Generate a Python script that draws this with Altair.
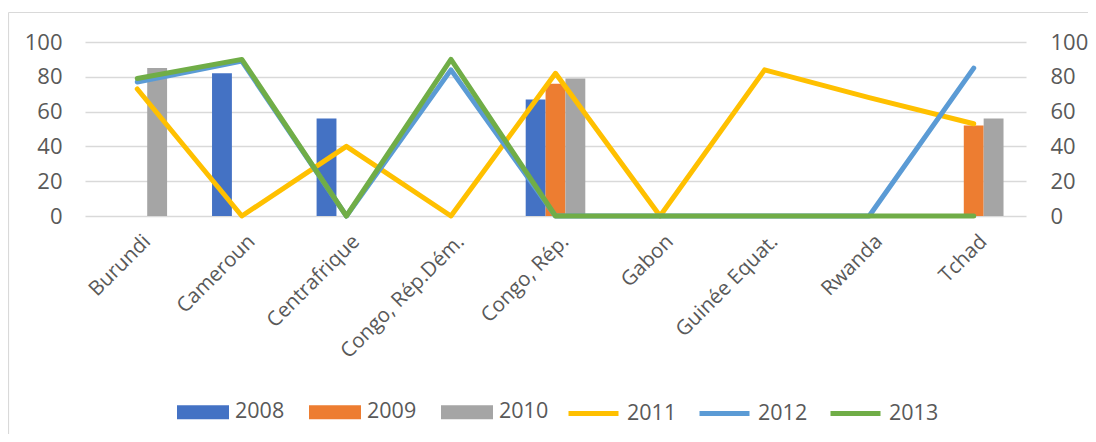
import altair as alt
import pandas as pd

categories = ["Burundi", "Cameroun", "Centrafrique", "Congo, Rép.Dém.", "Congo, Rép.",
              "Gabon", "Guinée Equat.", "Rwanda", "Tchad"]

bar_years = ["2008", "2009", "2010"]
v2008 = [0, 82, 56, 0, 67, 0, 0, 0, 0]
v2009 = [0, 0, 0, 0, 76, 0, 0, 0, 52]
v2010 = [85, 0, 0, 0, 79, 0, 0, 0, 56]

line_years = ["2011", "2012", "2013"]
v2011 = [73, 0, 40, 0, 82, 0, 84, 68, 53]
v2012 = [77, 89, 0, 84, 0, 0, 0, 0, 85]
v2013 = [79, 90, 0, 90, 0, 0, 0, 0, 0]

y_ticks = [0, 20, 40, 60, 80, 100]

bar_colors = ["#4472C4", "#ED7D31", "#A5A5A5"]
line_colors = ["#FFC000", "#5B9BD5", "#70AD47"]

bar_rows = []
for yr, vals in zip(bar_years, [v2008, v2009, v2010]):
    for c, v in zip(categories, vals):
        bar_rows.append({"pays": c, "annee": yr, "valeur": v})
bars_df = pd.DataFrame(bar_rows)

line_rows = []
for yr, vals in zip(line_years, [v2011, v2012, v2013]):
    for i, (c, v) in enumerate(zip(categories, vals)):
        line_rows.append({"pays": c, "annee": yr, "valeur": v, "idx": i})
lines_df = pd.DataFrame(line_rows)

FONT = "Open Sans"
FS_X = 20.5
FS_Y = 22
FS_L = 21.5
GRAY = "#595959"
GRID = "#D9D9D9"
W, H = 941, 174

x_scale = alt.Scale(type="band", domain=categories, paddingInner=0.43, paddingOuter=0.215,
                    round=False)
x_axis = alt.Axis(title=None, labelAngle=-45, labelAlign="right", labelBaseline="top",
                  labelFont=FONT, labelFontSize=FS_X, labelColor=GRAY, labelPadding=15,
                  labelOffset=3, ticks=False, tickSize=0, domain=False, grid=False,
                  labelLimit=0)

frame_df = pd.DataFrame({"a": [0]})
frame_left = alt.Chart(frame_df).mark_rule(stroke=GRID, strokeWidth=1.2).encode(
    x=alt.value(-76.5), y=alt.value(-29.5), y2=alt.value(420)
)
frame_top = alt.Chart(frame_df).mark_rule(stroke=GRID, strokeWidth=1.2).encode(
    x=alt.value(-76.5), x2=alt.value(1100), y=alt.value(-29.5)
)

bars = alt.Chart(bars_df).mark_bar().encode(
    x=alt.X("pays:N", scale=x_scale, axis=x_axis),
    xOffset=alt.XOffset("annee:N", scale=alt.Scale(domain=bar_years, paddingInner=0, paddingOuter=0)),
    y=alt.Y("valeur:Q", scale=alt.Scale(domain=[0, 100]),
            axis=alt.Axis(title=None, orient="left", values=y_ticks, labelFont=FONT,
                          labelFontSize=FS_Y, labelColor=GRAY, ticks=False, tickSize=0,
                          domain=False, labelPadding=23, grid=True, gridColor=GRID,
                          gridWidth=1.5)),
    color=alt.Color("annee:N", scale=alt.Scale(domain=bar_years, range=bar_colors),
                    legend=alt.Legend(title=None, orient="none", legendX=92, legendY=344,
                                      direction="horizontal",
                                      symbolType="M-1,-0.27H1V0.27H-1Z", symbolSize=2704,
                                      symbolStrokeWidth=0, labelFont=FONT, labelFontSize=FS_L,
                                      labelColor=GRAY, labelOffset=6, columnPadding=24,
                                      padding=0)),
)

lines = alt.Chart(lines_df).mark_line(strokeWidth=5, strokeCap="round", strokeJoin="round").encode(
    x=alt.X("pays:N", scale=x_scale, axis=x_axis),
    y=alt.Y("valeur:Q", scale=alt.Scale(domain=[0, 100]),
            axis=alt.Axis(title=None, orient="right", values=y_ticks, labelFont=FONT,
                          labelFontSize=FS_Y, labelColor=GRAY, ticks=False, tickSize=0,
                          domain=False, labelPadding=24, grid=False)),
    stroke=alt.Stroke("annee:N", scale=alt.Scale(domain=line_years, range=line_colors),
                      legend=alt.Legend(title=None, orient="none", legendX=481, legendY=344,
                                        direction="horizontal", symbolType="stroke",
                                        symbolSize=2500, symbolStrokeWidth=5,
                                        labelFont=FONT, labelFontSize=FS_L, labelColor=GRAY,
                                        labelOffset=6, columnPadding=12, padding=0)),
    order=alt.Order("idx:Q"),
)

chart = alt.layer(frame_left, frame_top, bars, lines).resolve_scale(
    y="independent"
).resolve_legend(
    color="independent", stroke="independent"
).properties(
    width=W, height=H,
    autosize=alt.AutoSizeParams(type="none"),
    padding={"left": 77, "top": 34, "right": 62, "bottom": 218},
).configure_view(stroke=None)

chart.save("out.html", embed_options={"renderer": "svg", "actions": False})
